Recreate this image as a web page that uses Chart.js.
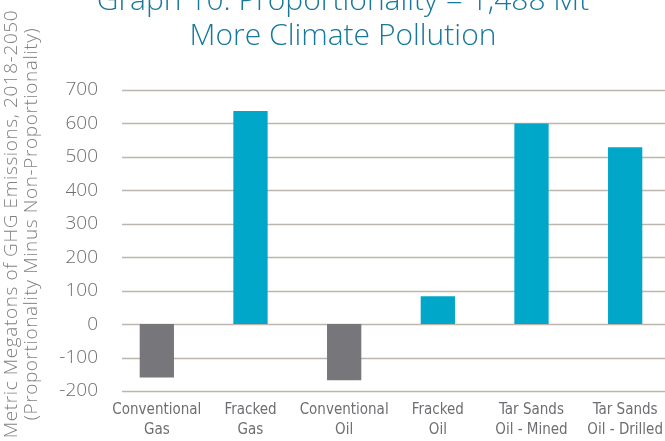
<!DOCTYPE html>
<html>
<head>
<meta charset="utf-8">
<script src="https://cdn.jsdelivr.net/npm/chart.js@4.4.1/dist/chart.umd.min.js"></script>
<style>
  html, body { margin: 0; padding: 0; background: #fff; overflow: hidden; }
  body { width: 665px; height: 441px; position: relative; }
  #wrap { position: absolute; left: 0; top: 0; width: 672px; height: 441px; }
</style>
</head>
<body>
<div id="wrap"><canvas id="dataChart"></canvas></div>
<script>
const titleLines = ['Graph 10: Proportionality = 1,488 Mt', 'More Climate Pollution'];
const categories = [
    ['Conventional', 'Gas'],
    ['Fracked', 'Gas'],
    ['Conventional', 'Oil'],
    ['Fracked', 'Oil'],
    ['Tar Sands', 'Oil - Mined'],
    ['Tar Sands', 'Oil - Drilled']
];
const emissions = [-160, 637, -168, 83, 600, 529];
const yTitle = ['Metric Megatons of GHG Emissions, 2018-2050', '(Proportionality Minus Non-Proportionality)'];

const teal = '#00a7c8';
const grey = '#77777b';
const gridColor = '#bcb6ad';

// titles drawn by hand so they sit where the original puts them
const extras = {
    id: 'extras',
    beforeDatasetsDraw(chart) {
        const ctx = chart.ctx;
        const area = chart.chartArea;
        const y = chart.scales.y;
        ctx.save();
        ctx.strokeStyle = gridColor;
        ctx.lineWidth = 1.3;
        y.ticks.forEach(t => {
            const py = Math.round(y.getPixelForValue(t.value)) + 0.5;
            ctx.beginPath();
            ctx.moveTo(area.left + 12, py);
            ctx.lineTo(area.right, py);
            ctx.stroke();
        });
        ctx.restore();
    },
    afterDraw(chart) {
        const ctx = chart.ctx;
        ctx.save();
        ctx.fillStyle = '#17789a';
        ctx.font = '300 30px "Open Sans"';
        ctx.textAlign = 'center';
        ctx.textBaseline = 'middle';
        ctx.fillText(titleLines[0], 343, 1);
        ctx.fillText(titleLines[1], 343, 36);

        ctx.fillStyle = '#808184';
        ctx.font = '300 19px "Open Sans"';
        ctx.letterSpacing = '0.6px';
        ctx.translate(0, 224);
        ctx.rotate(-Math.PI / 2);
        ctx.fillText(yTitle[0], 0, 12);
        ctx.fillText(yTitle[1], 0, 32);
        ctx.restore();
    }
};

const ctx = document.getElementById('dataChart').getContext('2d');
new Chart(ctx, {
    type: 'bar',
    data: {
        labels: categories,
        datasets: [{
            data: emissions,
            backgroundColor: emissions.map(v => v < 0 ? grey : teal),
            borderWidth: 0,
            categoryPercentage: 1,
            barPercentage: 0.366
        }]
    },
    options: {
        responsive: true,
        maintainAspectRatio: false,
        animation: false,
        layout: { padding: { top: 90, left: 0, right: 0, bottom: 0 } },
        plugins: {
            legend: { display: false },
            title: { display: false },
            tooltip: { enabled: false }
        },
        scales: {
            x: {
                grid: { display: false },
                border: { display: false },
                ticks: {
                    color: '#6d6e71',
                    font: { family: '"DejaVu Sans Condensed", "Open Sans"', size: 15, lineHeight: 1.35 },
                    padding: 1,
                    maxRotation: 0,
                    autoSkip: false
                },
                afterFit(scale) { scale.height = 50; }
            },
            y: {
                min: -200,
                max: 700,
                grid: { display: false },
                border: { display: false },
                ticks: {
                    stepSize: 100,
                    color: '#6d6e71',
                    font: { family: '"Open Sans"', size: 19, weight: '300' },
                    padding: 4
                },
                afterFit(scale) { scale.width = 110; }
            }
        }
    },
    plugins: [extras]
});
</script>
</body>
</html>
